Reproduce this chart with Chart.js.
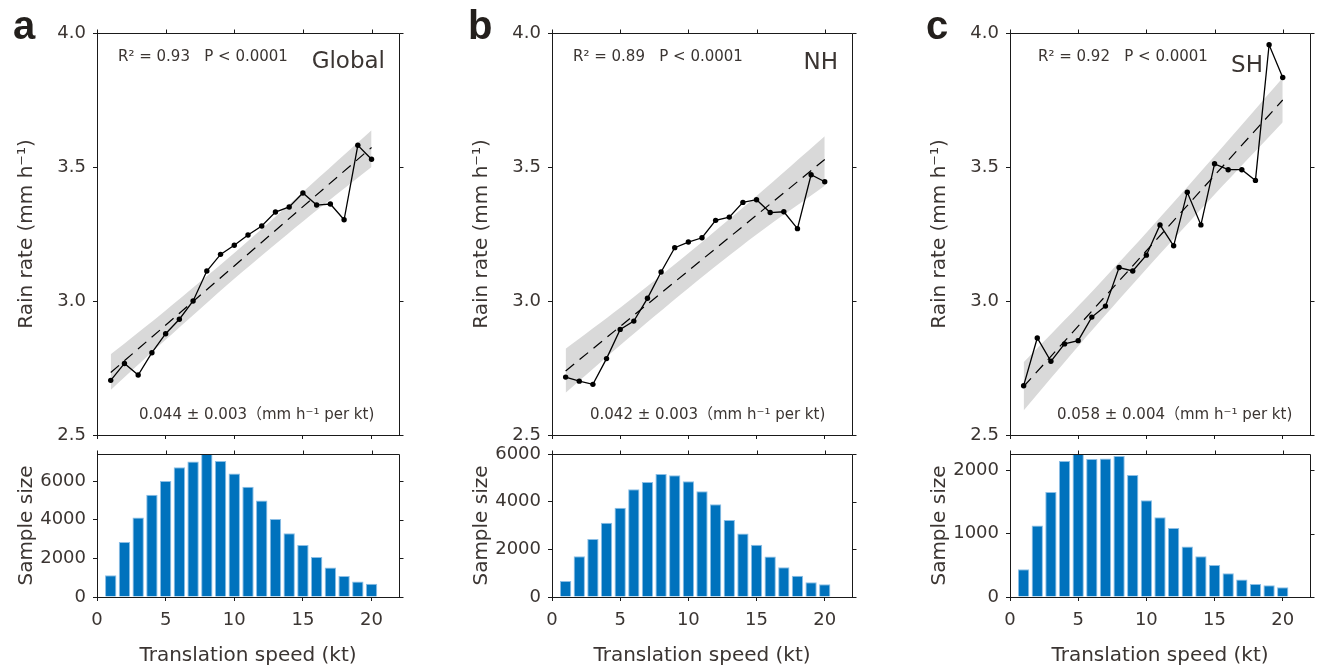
<!DOCTYPE html>
<html>
<head>
<meta charset="utf-8">
<script src="https://cdn.jsdelivr.net/npm/chart.js@4.4.1/dist/chart.umd.min.js"></script>
<style>
  html, body { margin: 0; padding: 0; background: #fff; }
  #wrap { position: relative; width: 1319px; height: 670px; }
  #wrap canvas { position: absolute; left: 0; top: 0; width: 1319px; height: 670px; }
</style>
</head>
<body>
<div id="wrap">
  <canvas id="rainA" width="1319" height="670"></canvas>
  <canvas id="rainB" width="1319" height="670"></canvas>
  <canvas id="rainC" width="1319" height="670"></canvas>
  <canvas id="countA" width="1319" height="670"></canvas>
  <canvas id="countB" width="1319" height="670"></canvas>
  <canvas id="countC" width="1319" height="670"></canvas>
</div>
<script>
// translation speed bins (kt)
const speeds = [1, 2, 3, 4, 5, 6, 7, 8, 9, 10, 11, 12, 13, 14, 15, 16, 17, 18, 19, 20];

// mean rain rate (mm/h) per bin
const rainGlobal = [2.704, 2.767, 2.724, 2.807, 2.878, 2.932, 3.000, 3.112, 3.174, 3.208, 3.246, 3.280, 3.332, 3.351, 3.403, 3.358, 3.362, 3.303, 3.581, 3.529];
const rainNH = [2.716, 2.701, 2.689, 2.785, 2.894, 2.925, 3.010, 3.108, 3.199, 3.220, 3.236, 3.301, 3.313, 3.368, 3.378, 3.330, 3.333, 3.270, 3.471, 3.445];
const rainSH = [2.684, 2.862, 2.775, 2.840, 2.852, 2.940, 2.981, 3.125, 3.112, 3.171, 3.284, 3.206, 3.406, 3.284, 3.512, 3.490, 3.490, 3.450, 3.956, 3.834];

// sample size per bin
const countGlobal = [1130, 2850, 4110, 5290, 6000, 6710, 7010, 7400, 7040, 6390, 5710, 5000, 4030, 3300, 2690, 2070, 1530, 1090, 800, 680];
const countNH = [670, 1710, 2430, 3120, 3740, 4520, 4820, 5160, 5110, 4860, 4440, 3890, 3230, 2660, 2190, 1700, 1250, 890, 620, 530];
const countSH = [440, 1130, 1660, 2150, 2260, 2180, 2190, 2230, 1930, 1530, 1260, 1090, 800, 645, 505, 375, 275, 205, 185, 155];

// regression line end points
const fitX = [1, 20];
const fitGlobal = [2.733, 3.573];
const fitNH = [2.739, 3.528];
const fitSH = [2.681, 3.750];

// confidence band
const bandX = [1, 5, 10, 15, 20];
const bandGlobalUp = [2.801, 2.965, 3.179, 3.407, 3.637];
const bandGlobalLo = [2.668, 2.855, 3.083, 3.297, 3.500];
const bandNHUp = [2.822, 2.975, 3.178, 3.392, 3.615];
const bandNHLo = [2.658, 2.835, 3.048, 3.248, 3.430];
const bandSHUp = [2.771, 2.981, 3.255, 3.541, 3.833];
const bandSHLo = [2.591, 2.831, 3.119, 3.397, 3.667];

// ticks
const xTicks = [0, 5, 10, 15, 20];
const rainTicks = [2.5, 3.0, 3.5, 4.0];
const rainTickLabels = ['2.5', '3.0', '3.5', '4.0'];
const countTicksGlobal = [0, 2000, 4000, 6000];
const countTicksNH = [0, 2000, 4000, 6000];
const countTicksSH = [0, 1000, 2000];

const INK = '#3b3532';
const LINE = '#1a1a1a';
const FAMILY = "'DejaVu Sans', 'Noto Sans CJK SC', sans-serif";

const panels = [
  { top: 'rainA', bottom: 'countA', left: 97, right: 399, letter: 'a', region: 'Global', regionRight: 14, regionY: 68,
    r2: 'R² = 0.93   P < 0.0001', r2Dx: 21, slope: '0.044 ± 0.003（mm h⁻¹ per kt)', slopeDx: 42,
    rain: rainGlobal, fit: fitGlobal, up: bandGlobalUp, lo: bandGlobalLo,
    count: countGlobal, countMax: 7400, countTicks: countTicksGlobal },
  { top: 'rainB', bottom: 'countB', left: 552, right: 852, letter: 'b', region: 'NH', regionRight: 14, regionY: 69,
    r2: 'R² = 0.89   P < 0.0001', r2Dx: 21, slope: '0.042 ± 0.003（mm h⁻¹ per kt)', slopeDx: 38,
    rain: rainNH, fit: fitNH, up: bandNHUp, lo: bandNHLo,
    count: countNH, countMax: 6000, countTicks: countTicksNH },
  { top: 'rainC', bottom: 'countC', left: 1010, right: 1310, letter: 'c', region: 'SH', regionRight: 47, regionY: 72,
    r2: 'R² = 0.92   P < 0.0001', r2Dx: 28, slope: '0.058 ± 0.004（mm h⁻¹ per kt)', slopeDx: 47,
    rain: rainSH, fit: fitSH, up: bandSHUp, lo: bandSHLo,
    count: countSH, countMax: 2260, countTicks: countTicksSH }
];

function pts(xs, ys) {
  return xs.map((x, i) => ({ x: x, y: ys[i] }));
}

function fixedTicks(values) {
  return function(scale) {
    scale.ticks = values.map(v => ({ value: v }));
  };
}

// top and right sides of the box, with outward ticks like the left/bottom ones
const frame = {
  id: 'frame',
  afterDraw(chart) {
    const { ctx, chartArea: a, scales } = chart;
    const t = Math.round(a.top) + 0.5, r = Math.round(a.right) + 0.5;
    ctx.save();
    ctx.strokeStyle = LINE;
    ctx.lineWidth = 1;
    ctx.beginPath();
    ctx.moveTo(Math.round(a.left), t);
    ctx.lineTo(r, t);
    ctx.lineTo(r, Math.round(a.bottom) + 1);
    scales.x.ticks.forEach(tk => {
      const px = Math.round(scales.x.getPixelForValue(tk.value)) + 0.5;
      ctx.moveTo(px, t);
      ctx.lineTo(px, t - 4);
    });
    scales.y.ticks.forEach(tk => {
      const py = Math.round(scales.y.getPixelForValue(tk.value)) + 0.5;
      ctx.moveTo(r, py);
      ctx.lineTo(r + 4, py);
    });
    ctx.stroke();
    ctx.restore();
  }
};

// panel letters and in-plot annotations
const notes = {
  id: 'notes',
  afterDraw(chart, args, opts) {
    if (!opts.items) return;
    const ctx = chart.ctx;
    ctx.save();
    opts.items.forEach(it => {
      ctx.font = it.font;
      ctx.fillStyle = it.color || INK;
      ctx.textAlign = it.align || 'left';
      ctx.textBaseline = 'alphabetic';
      ctx.fillText(it.text, it.x, it.y);
    });
    ctx.restore();
  }
};

Chart.register(frame, notes);

function baseGrid() {
  return { drawOnChartArea: false, drawTicks: true, tickLength: 4, color: LINE, lineWidth: 1, offset: false };
}

panels.forEach(p => {
  // rain rate panel
  new Chart(document.getElementById(p.top), {
    type: 'line',
    data: {
      datasets: [
        { data: pts(speeds, p.rain), borderColor: '#000', borderWidth: 1.3, pointRadius: 2.7,
          pointBackgroundColor: '#000', pointBorderWidth: 0, tension: 0, fill: false },
        { data: pts(fitX, p.fit), borderColor: '#000', borderWidth: 1.2, borderDash: [11, 7],
          pointRadius: 0, fill: false },
        { data: pts(bandX, p.up), borderColor: 'rgba(0,0,0,0)', borderWidth: 0, pointRadius: 0,
          backgroundColor: '#d9d9d9', fill: '+1', tension: 0.3 },
        { data: pts(bandX, p.lo), borderColor: 'rgba(0,0,0,0)', borderWidth: 0, pointRadius: 0,
          fill: false, tension: 0.3 }
      ]
    },
    options: {
      responsive: false,
      animation: false,
      events: [],
      layout: { padding: { left: p.left - 82, right: 1319 - p.right, top: 33, bottom: 225 } },
      plugins: {
        legend: { display: false },
        tooltip: { enabled: false },
        notes: {
          items: [
            { text: p.letter, x: p.left - 84, y: 39, font: "bold 40px 'Liberation Sans', Arial, sans-serif", color: '#231f1c' },
            { text: p.r2, x: p.left + p.r2Dx, y: 61, font: '15px ' + FAMILY },
            { text: p.region, x: p.right - p.regionRight, y: p.regionY, align: 'right', font: '23px ' + FAMILY },
            { text: p.slope, x: p.left + p.slopeDx, y: 419, font: '15px ' + FAMILY }
          ]
        }
      },
      scales: {
        x: {
          type: 'linear', min: 0, max: 22, offset: false,
          afterBuildTicks: fixedTicks(xTicks),
          afterFit: s => { s.height = 10; },
          ticks: { display: false },
          grid: baseGrid(),
          border: { color: LINE, width: 1 }
        },
        y: {
          type: 'linear', min: 2.5, max: 4.0,
          afterBuildTicks: fixedTicks(rainTicks),
          afterFit: s => { s.width = 82; },
          ticks: { callback: (v, i) => rainTickLabels[i], color: INK, padding: 7, font: { family: FAMILY, size: 18 } },
          grid: baseGrid(),
          border: { color: LINE, width: 1 },
          title: { display: true, text: 'Rain rate (mm h⁻¹)', color: INK, padding: 0, font: { family: FAMILY, size: 20 } }
        }
      }
    }
  });

  // sample size panel
  new Chart(document.getElementById(p.bottom), {
    type: 'bar',
    data: {
      datasets: [
        { data: pts(speeds, p.count), backgroundColor: '#0072bd', borderColor: '#8cbfe6', borderWidth: 1,
          barPercentage: 0.83, categoryPercentage: 1 }
      ]
    },
    options: {
      responsive: false,
      animation: false,
      events: [],
      layout: { padding: { left: p.left - 82, right: 1319 - p.right, top: 454, bottom: 0 } },
      plugins: { legend: { display: false }, tooltip: { enabled: false } },
      scales: {
        x: {
          type: 'linear', min: 0, max: 22, offset: false,
          afterBuildTicks: fixedTicks(xTicks),
          afterFit: s => { s.height = 73; },
          ticks: { callback: v => String(v), color: INK, padding: 9, font: { family: FAMILY, size: 18 } },
          grid: baseGrid(),
          border: { color: LINE, width: 1 },
          title: { display: true, text: 'Translation speed (kt)', color: INK, padding: { top: 0, bottom: 2 }, font: { family: FAMILY, size: 20 } }
        },
        y: {
          type: 'linear', min: 0, max: p.countMax,
          afterBuildTicks: fixedTicks(p.countTicks),
          afterFit: s => { s.width = 82; },
          ticks: { callback: v => String(v), color: INK, padding: 7, font: { family: FAMILY, size: 18 } },
          grid: baseGrid(),
          border: { color: LINE, width: 1 },
          title: { display: true, text: 'Sample size', color: INK, padding: 0, font: { family: FAMILY, size: 20 } }
        }
      }
    }
  });
});
</script>
</body>
</html>
